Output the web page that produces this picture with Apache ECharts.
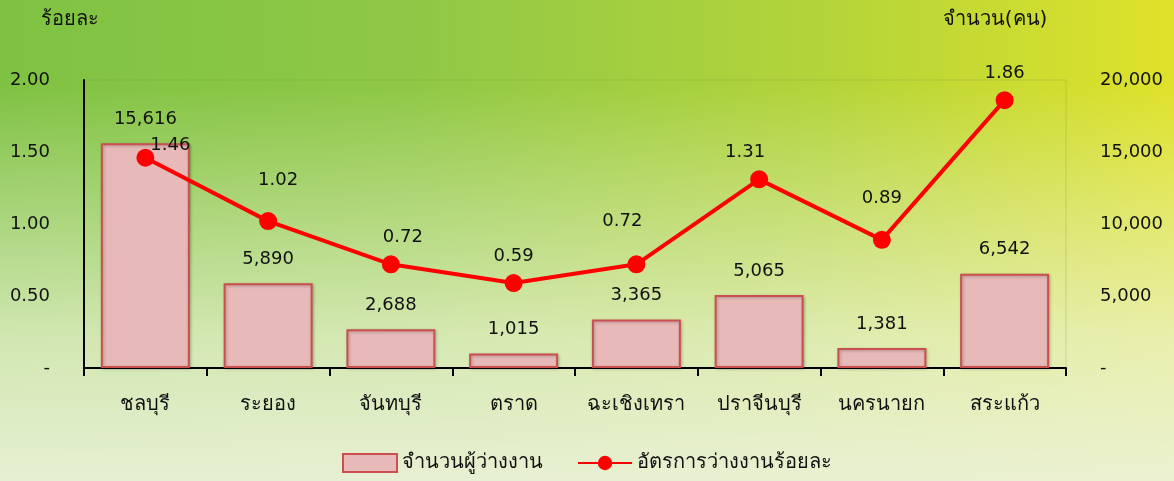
<!DOCTYPE html>
<html><head><meta charset="utf-8">
<script src="https://cdn.jsdelivr.net/npm/echarts@6/dist/echarts.min.js"></script>
<style>
html,body{margin:0;padding:0;}
#c{width:1174px;height:481px;
background:
 linear-gradient(to bottom, rgba(255,255,255,0) 0%, rgba(255,255,255,0) 18%, rgba(236,243,214,0.75) 70%, rgba(236,242,218,0.95) 100%),
 linear-gradient(to right, #7fc243 0%, #8fc846 35%, #b3d43a 70%, #dfe22a 100%);}
</style></head><body>
<div id="c"></div>
<script>
const categories = ['ชลบุรี','ระยอง','จันทบุรี','ตราด','ฉะเชิงเทรา','ปราจีนบุรี','นครนายก','สระแก้ว'];
const unemployed = [15616, 5890, 2688, 1015, 3365, 5065, 1381, 6542];
const rate = [1.46, 1.02, 0.72, 0.59, 0.72, 1.31, 0.89, 1.86];
const leftTicks = [0, 0.5, 1.0, 1.5, 2.0];
const rightTicks = [0, 5000, 10000, 15000, 20000];
const lineLabelOffsets = [[25,15],[10,-14],[12,0],[0,0],[-14,-16],[-14,0],[0,-15],[0,0]];

const FONT = '"DejaVu Sans", "Noto Sans", sans-serif';
const chart = echarts.init(document.getElementById('c'));
chart.setOption({
  textStyle:{fontFamily:FONT},
  grid:{left:84, right:108, top:80, bottom:113, containLabel:false, outerBoundsMode:'none',
        show:true, borderColor:'rgba(120,140,60,0.25)', borderWidth:1},
  legend:{
    bottom:3, left:'center', itemGap:34, itemWidth:54, itemHeight:18,
    textStyle:{fontSize:20, color:'#111', fontFamily:FONT},
    data:[
      {name:'จำนวนผู้ว่างงาน', icon:'rect'},
      {name:'อัตรการว่างงานร้อยละ'}
    ]
  },
  xAxis:{
    type:'category', data:categories,
    axisLine:{lineStyle:{color:'#000', width:2}},
    axisTick:{show:true, interval:0, length:8, lineStyle:{color:'#000', width:2}},
    axisLabel:{interval:0, fontSize:20, color:'#111', margin:27, fontFamily:FONT}
  },
  yAxis:[
    {type:'value', min:leftTicks[0], max:leftTicks[leftTicks.length-1], interval:0.5,
     name:'ร้อยละ', nameLocation:'end', nameGap:50,
     nameTextStyle:{fontSize:20, color:'#111', align:'center', padding:[0,28,0,0], fontFamily:FONT},
     axisLine:{show:true, lineStyle:{color:'#000', width:2}},
     axisTick:{show:false},
     splitLine:{show:false},
     axisLabel:{fontSize:18, color:'#111', margin:34, fontFamily:FONT,
       formatter:v=> v===0 ? '-' : v.toFixed(2)}},
    {type:'value', min:rightTicks[0], max:rightTicks[rightTicks.length-1], interval:5000,
     name:'จำนวน(คน)', nameLocation:'end', nameGap:50,
     nameTextStyle:{fontSize:20, color:'#111', align:'center', padding:[0,142,0,0], fontFamily:FONT},
     axisLine:{show:false}, axisTick:{show:false}, splitLine:{show:false},
     axisLabel:{fontSize:18, color:'#111', margin:34, fontFamily:FONT,
       formatter:v=> v===0 ? '-' : v.toLocaleString('en-US')}}
  ],
  series:[
    {name:'จำนวนผู้ว่างงาน', type:'bar', yAxisIndex:1, data:unemployed,
     barCategoryGap:'27.5%',
     itemStyle:{color:'#e8b9b9', borderColor:'#c9504e', borderWidth:2,
       shadowColor:'rgba(0,0,0,0.25)', shadowBlur:3, shadowOffsetX:1, shadowOffsetY:1},
     label:{show:true, position:'top', distance:15, fontSize:18, color:'#111', fontFamily:FONT,
       formatter:p=>p.value.toLocaleString('en-US')}},
    {name:'อัตรการว่างงานร้อยละ', type:'line', yAxisIndex:0,
     data:rate.map((v,i)=>({value:v, label:{offset:lineLabelOffsets[i]}})),
     symbol:'circle', symbolSize:18,
     lineStyle:{color:'#ff0000', width:4},
     itemStyle:{color:'#ff0000'},
     label:{show:true, position:'top', distance:9, fontSize:18, color:'#111', fontFamily:FONT,
       formatter:p=>p.value.toFixed(2)}}
  ]
});
</script>
</body></html>
